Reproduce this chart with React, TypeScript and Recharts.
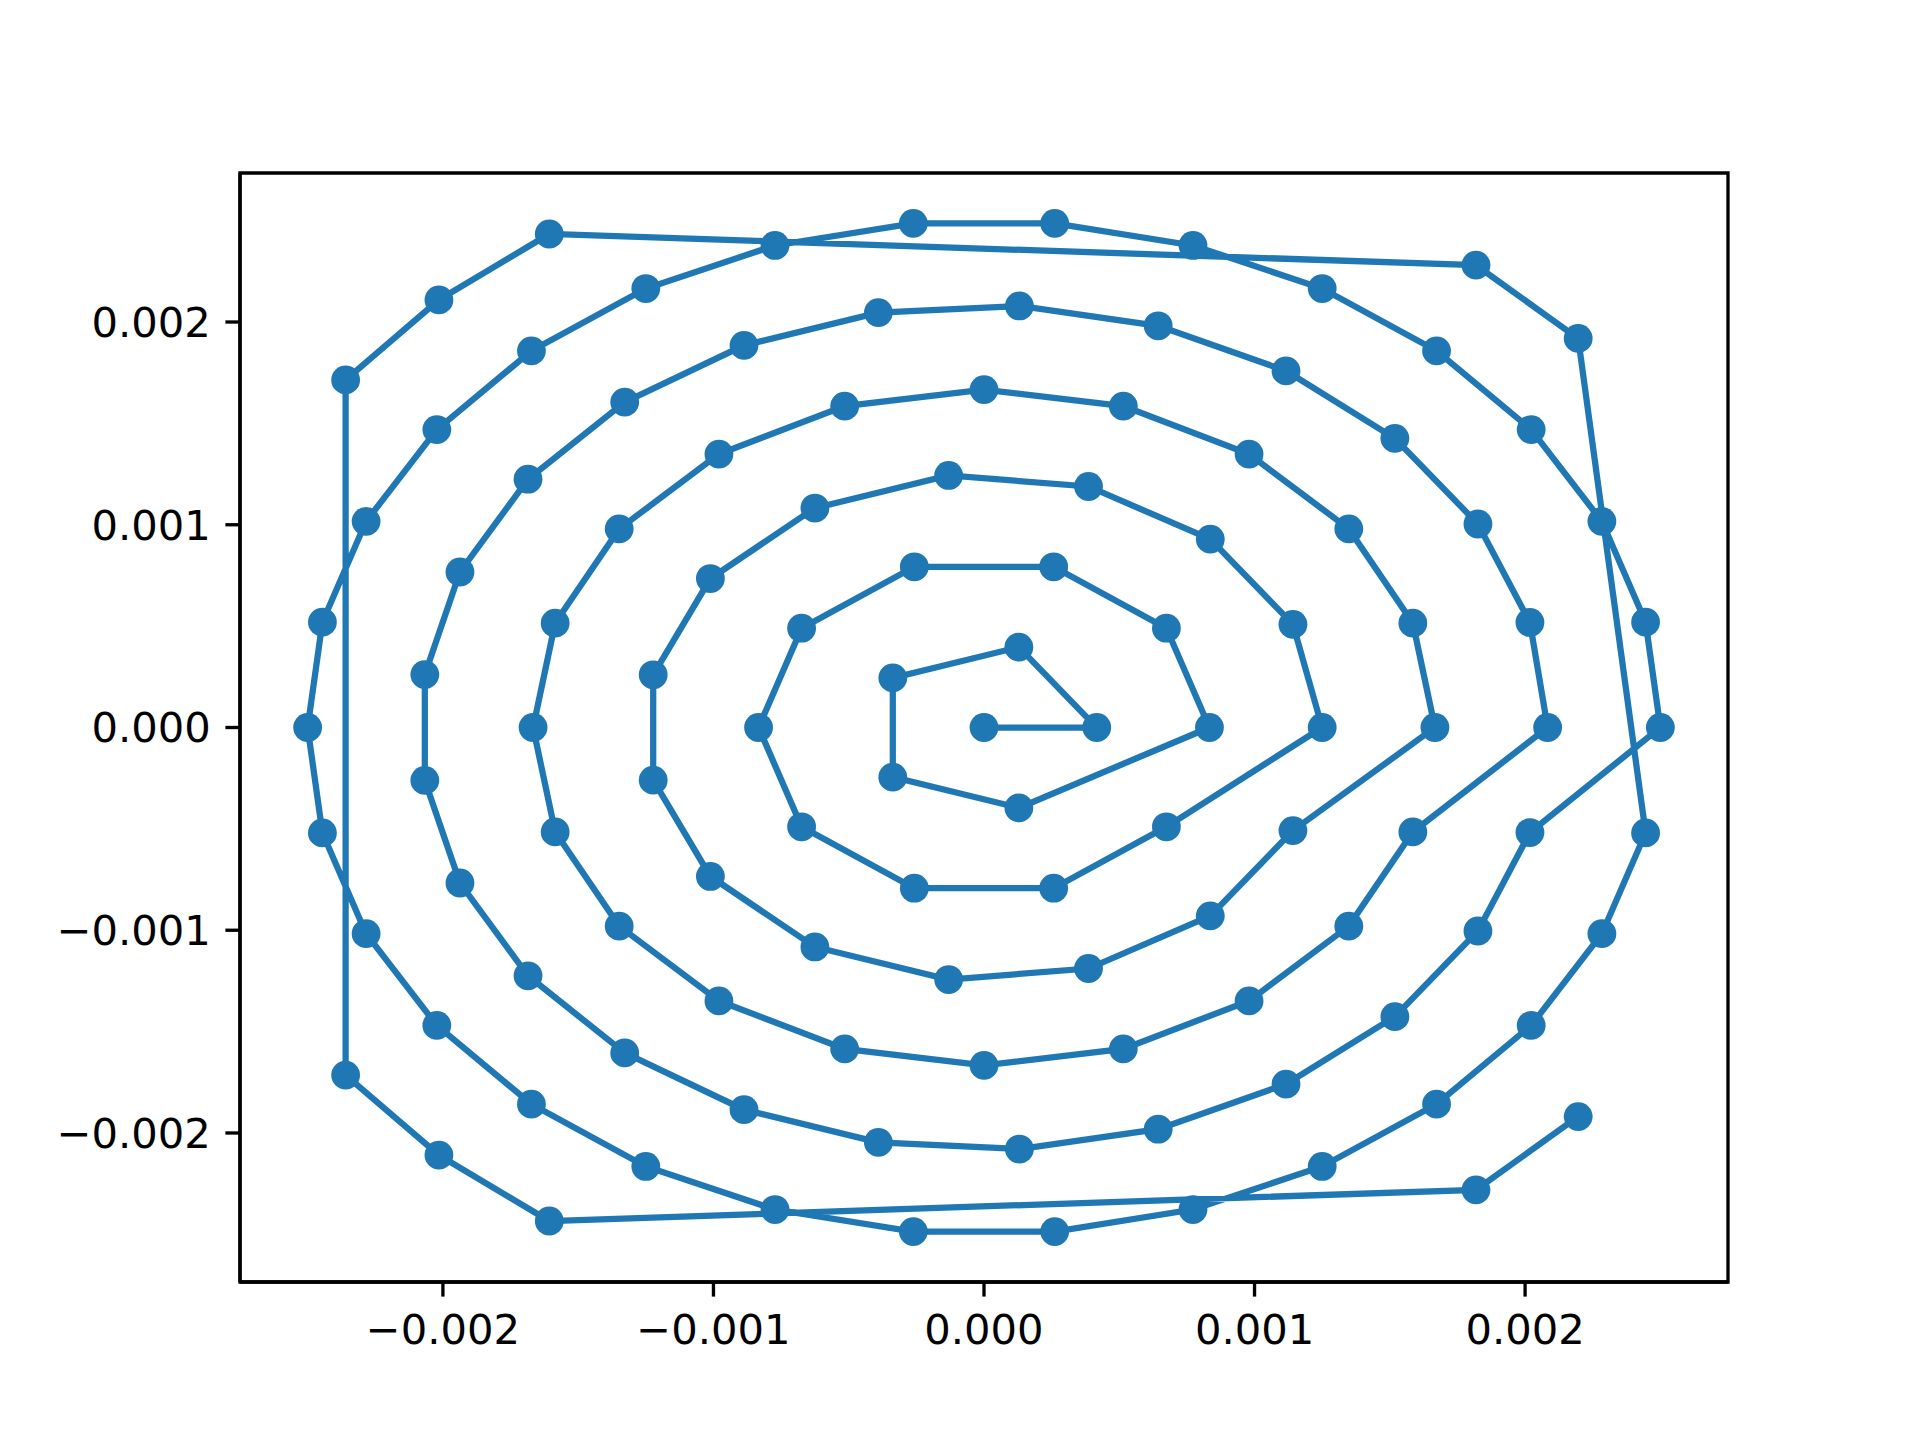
import { ReferenceArea, Scatter, ScatterChart, XAxis, YAxis } from "recharts";

// values in units of 0.001, in path order
const center: [number, number][] = [[0, 0]];

const ring1: [number, number][] = [
  [0.4167, 0], [0.1288, 0.3963], [-0.3371, 0.2449], [-0.3371, -0.2449], [0.1288, -0.3963],
];

const ring2: [number, number][] = [
  [0.8333, 0], [0.6742, 0.4898], [0.2575, 0.7926], [-0.2575, 0.7926], [-0.6742, 0.4898],
  [-0.8333, 0], [-0.6742, -0.4898], [-0.2575, -0.7926], [0.2575, -0.7926], [0.6742, -0.4898],
];

const ring3: [number, number][] = [
  [1.25, 0], [1.1419, 0.5084], [0.8364, 0.9289], [0.3863, 1.1888], [-0.1307, 1.2432],
  [-0.625, 1.0825], [-1.0113, 0.7347], [-1.2227, 0.2599], [-1.2227, -0.2599], [-1.0113, -0.7347],
  [-0.625, -1.0825], [-0.1307, -1.2432], [0.3863, -1.1888], [0.8364, -0.9289], [1.1419, -0.5084],
];

const ring4: [number, number][] = [
  [1.6667, 0], [1.5851, 0.515], [1.3484, 0.9797], [0.9797, 1.3484], [0.515, 1.5851],
  [0, 1.6667], [-0.515, 1.5851], [-0.9797, 1.3484], [-1.3484, 0.9797], [-1.5851, 0.515],
  [-1.6667, 0], [-1.5851, -0.515], [-1.3484, -0.9797], [-0.9797, -1.3484], [-0.515, -1.5851],
  [0, -1.6667], [0.515, -1.5851], [0.9797, -1.3484], [1.3484, -0.9797], [1.5851, -0.515],
];

const ring5: [number, number][] = [
  [2.0833, 0], [2.0179, 0.5181], [1.8257, 1.0037], [1.5187, 1.4262], [1.1163, 1.759],
  [0.6438, 1.9814], [0.1308, 2.0792], [-0.3904, 2.0464], [-0.887, 1.8851], [-1.328, 1.6052],
  [-1.6854, 1.2246], [-1.937, 0.7669], [-2.0669, 0.2611], [-2.0669, -0.2611], [-1.937, -0.7669],
  [-1.6854, -1.2246], [-1.328, -1.6052], [-0.887, -1.8851], [-0.3904, -2.0464], [0.1308, -2.0792],
  [0.6438, -1.9814], [1.1163, -1.759], [1.5187, -1.4262], [1.8257, -1.0037], [2.0179, -0.5181],
];

const ring6: [number, number][] = [
  [2.5, 0], [2.4454, 0.5198], [2.2839, 1.0168], [2.0225, 1.4695], [1.6728, 1.8579],
  [1.25, 2.1651], [0.7725, 2.3776], [0.2613, 2.4863], [-0.2613, 2.4863], [-0.7725, 2.3776],
  [-1.25, 2.1651], [-1.6728, 1.8579], [-2.0225, 1.4695], [-2.2839, 1.0168], [-2.4454, 0.5198],
  [-2.5, 0], [-2.4454, -0.5198], [-2.2839, -1.0168], [-2.0225, -1.4695], [-1.6728, -1.8579],
  [-1.25, -2.1651], [-0.7725, -2.3776], [-0.2613, -2.4863], [0.2613, -2.4863], [0.7725, -2.3776],
  [1.25, -2.1651], [1.6728, -1.8579], [2.0225, -1.4695], [2.2839, -1.0168], [2.4454, -0.5198],
];

const ring7: [number, number][] = [
  [2.1963, 1.919], [1.8185, 2.2803], [-1.6068, 2.4342], [-2.0147, 2.109], [-2.3596, 1.7144],
  [-2.3596, -1.7144], [-2.0147, -2.109], [-1.6068, -2.4342], [1.8185, -2.2803], [2.1963, -1.919],
];

const xTicks = [-2, -1, 0, 1, 2];
const yTicks = [-2, -1, 0, 1, 2];
const xLimit = 2.75;
const yLimit = 2.735;

const data = [...center, ...ring1, ...ring2, ...ring3, ...ring4, ...ring5, ...ring6, ...ring7].map(
  ([x, y]) => ({ x, y })
);

const BLUE = "#1f77b4";
const fmt = (v: number) => (v / 1000).toFixed(3).replace("-", "\u2212");
const tickStyle = { fill: "#000", fontSize: 41.67, fontFamily: "DejaVu Sans" };

const Dot = (props: any) => <circle cx={props.cx} cy={props.cy} r={14.4} fill={BLUE} />;

export default function App() {
  return (
    <div style={{ position: "absolute", left: 0, top: 0, background: "#fff" }}>
      <ScatterChart width={1920} height={1440} margin={{ top: 173, right: 192, left: 40, bottom: 58 }}>
        <XAxis
          type="number"
          dataKey="x"
          domain={[-xLimit, xLimit]}
          ticks={xTicks}
          tickFormatter={fmt}
          height={100}
          tickSize={14.6}
          tickMargin={17.5}
          tick={tickStyle}
          axisLine={{ stroke: "#000", strokeWidth: 3.33 }}
          tickLine={{ stroke: "#000", strokeWidth: 3.33 }}
          allowDataOverflow
        />
        <YAxis
          type="number"
          dataKey="y"
          domain={[-yLimit, yLimit]}
          ticks={yTicks}
          tickFormatter={fmt}
          width={200}
          tickSize={14.6}
          tickMargin={14.6}
          tick={tickStyle}
          axisLine={{ stroke: "#000", strokeWidth: 3.33 }}
          tickLine={{ stroke: "#000", strokeWidth: 3.33 }}
          allowDataOverflow
        />
        <Scatter
          data={data}
          line={{ stroke: BLUE, strokeWidth: 6.25 }}
          lineType="joint"
          shape={Dot}
          fill={BLUE}
          isAnimationActive={false}
        />
        <ReferenceArea
          x1={-xLimit}
          x2={xLimit}
          y1={-yLimit}
          y2={yLimit}
          fill="none"
          fillOpacity={0}
          stroke="#000"
          strokeWidth={3.33}
          strokeOpacity={1}
        />
      </ScatterChart>
    </div>
  );
}
